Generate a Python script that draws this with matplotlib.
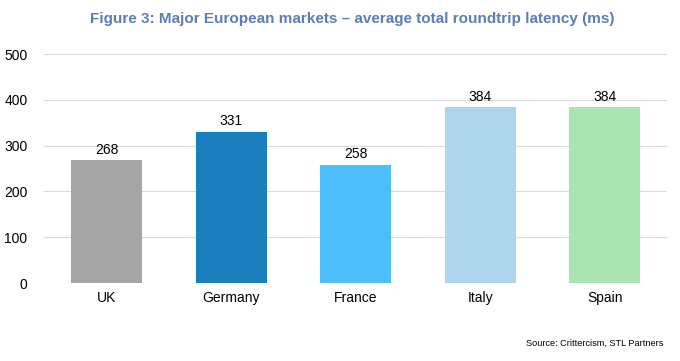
import matplotlib
matplotlib.use("Agg")
import matplotlib.pyplot as plt

categories = ["UK", "Germany", "France", "Italy", "Spain"]
values = [268, 331, 258, 384, 384]
colors = ["#A6A6A6", "#1A7FBF", "#4CBEFA", "#ADD6EC", "#A9E4B1"]
yticks = [0, 100, 200, 300, 400, 500]

plt.rcParams['font.family'] = ['Liberation Sans', 'DejaVu Sans']

fig = plt.figure(figsize=(6.8, 3.61), dpi=100)
ax = fig.add_axes([0.065, 0.216, 0.916, 0.634])

x = range(len(categories))
bars = ax.bar(x, values, width=0.57, color=colors, zorder=3)
for xi, v in zip(x, values):
    ax.text(xi, v + 8, str(v), ha="center", va="bottom", fontsize=10, color="#000000")

ax.set_xlim(-0.5, len(categories) - 0.5)
ax.set_ylim(0, 500)
ax.set_yticks(yticks)
ax.set_xticks(list(x))
ax.set_xticklabels(categories, fontsize=10)
ax.tick_params(axis="y", labelsize=10, length=0, pad=12)
ax.tick_params(axis="x", length=0, pad=6)
ax.yaxis.grid(True, color="#D9D9D9", linewidth=0.8, zorder=0)
for s in ax.spines.values():
    s.set_visible(False)

fig.text(0.518, 0.948, "Figure 3: Major European markets \u2013 average total roundtrip latency (ms)",
         ha="center", va="center", fontsize=11, fontweight="bold", color="#5B7DB8")
fig.text(0.975, 0.05, "Source: Crittercism, STL Partners", ha="right", va="center", fontsize=6.6)

fig.savefig("out.png", dpi=100)
